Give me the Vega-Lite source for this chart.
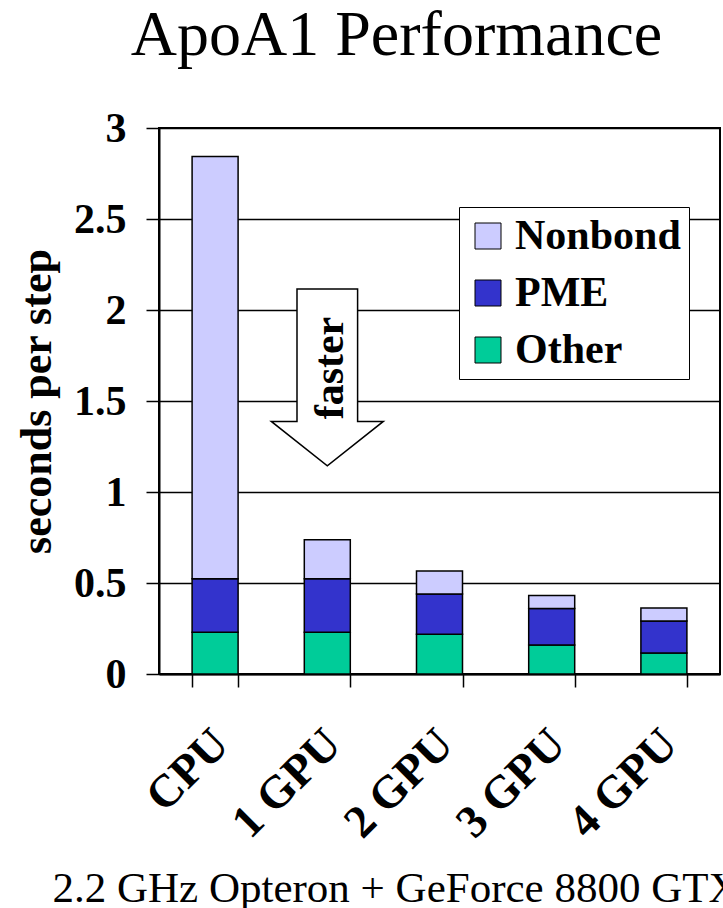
{
  "$schema": "https://vega.github.io/schema/vega-lite/v6.json",
  "autosize": {"type": "none"},
  "padding": {"left": 159, "top": 128, "right": 3, "bottom": 234},
  "width": 561,
  "height": 546,
  "background": "white",
  "title": {
    "text": "ApoA1 Performance",
    "font": "Liberation Serif",
    "fontSize": 64,
    "fontWeight": "normal",
    "color": "black",
    "anchor": "middle",
    "frame": "group",
    "dx": -43,
    "dy": 52,
    "baseline": "alphabetic",
    "offset": 40
  },
  "layer": [
    {
      "data": {
        "values": [
          {"system": "CPU", "component": "Other", "seconds": 0.229},
          {"system": "CPU", "component": "PME", "seconds": 0.295},
          {"system": "CPU", "component": "Nonbond", "seconds": 2.320},
          {"system": "1 GPU", "component": "Other", "seconds": 0.229},
          {"system": "1 GPU", "component": "PME", "seconds": 0.295},
          {"system": "1 GPU", "component": "Nonbond", "seconds": 0.214},
          {"system": "2 GPU", "component": "Other", "seconds": 0.218},
          {"system": "2 GPU", "component": "PME", "seconds": 0.222},
          {"system": "2 GPU", "component": "Nonbond", "seconds": 0.126},
          {"system": "3 GPU", "component": "Other", "seconds": 0.159},
          {"system": "3 GPU", "component": "PME", "seconds": 0.201},
          {"system": "3 GPU", "component": "Nonbond", "seconds": 0.072},
          {"system": "4 GPU", "component": "Other", "seconds": 0.115},
          {"system": "4 GPU", "component": "PME", "seconds": 0.176},
          {"system": "4 GPU", "component": "Nonbond", "seconds": 0.072}
        ]
      },
      "transform": [
        {"calculate": "indexof(['Other', 'PME', 'Nonbond'], datum.component)", "as": "stackRank"}
      ],
      "mark": {"type": "bar", "stroke": "black", "strokeWidth": 1.5},
      "encoding": {
        "x": {
          "field": "system",
          "type": "nominal",
          "sort": ["CPU", "1 GPU", "2 GPU", "3 GPU", "4 GPU"],
          "scale": {"paddingInner": 0.59, "paddingOuter": 0.295},
          "axis": {
            "title": "2.2 GHz Opteron + GeForce 8800 GTX",
            "titleFont": "Liberation Serif",
            "titleFontSize": 43,
            "titleFontWeight": "normal",
            "titleColor": "black",
            "titleAnchor": "start",
            "titleAlign": "left",
            "titleBaseline": "alphabetic",
            "titleX": -107,
            "titleY": 227,
            "labelAngle": -45,
            "labelFont": "Liberation Serif",
            "labelFontSize": 46,
            "labelFontWeight": "bold",
            "labelColor": "black",
            "labelPadding": 34,
            "labelOffset": -10,
            "tickBand": "extent",
            "tickSize": 13,
            "tickWidth": 1.5,
            "tickColor": "black",
            "domainColor": "black",
            "domainWidth": 2,
            "grid": false
          }
        },
        "y": {
          "field": "seconds",
          "type": "quantitative",
          "aggregate": "sum",
          "stack": "zero",
          "scale": {"domain": [0, 3], "nice": false},
          "axis": {
            "title": "seconds per step",
            "titleFont": "Liberation Serif",
            "titleFontSize": 44,
            "titleFontWeight": "bold",
            "titleColor": "black",
            "titleAngle": 270,
            "titleAlign": "center",
            "titleBaseline": "alphabetic",
            "titleX": -109,
            "titleY": 273,
            "values": [0, 0.5, 1, 1.5, 2, 2.5, 3],
            "format": "~g",
            "labelFont": "Liberation Serif",
            "labelFontSize": 42,
            "labelFontWeight": "bold",
            "labelColor": "black",
            "labelPadding": 20,
            "tickSize": 13,
            "tickWidth": 1.5,
            "tickColor": "black",
            "domainColor": "black",
            "domainWidth": 2,
            "grid": true,
            "gridColor": "black",
            "gridWidth": 1.5
          }
        },
        "color": {
          "field": "component",
          "type": "nominal",
          "sort": ["Other", "PME", "Nonbond"],
          "scale": {
            "domain": ["Other", "PME", "Nonbond"],
            "range": ["#00CC99", "#3333CC", "#CCCCFF"]
          },
          "legend": {
            "title": null,
            "values": ["Nonbond", "PME", "Other"],
            "orient": "none",
            "legendX": 300,
            "legendY": 79,
            "direction": "vertical",
            "fillColor": "white",
            "strokeColor": "black",
            "padding": 8,
            "symbolType": "square",
            "symbolSize": 676,
            "symbolStrokeColor": "black",
            "symbolStrokeWidth": 1,
            "symbolOpacity": 1,
            "labelFont": "Liberation Serif",
            "labelFontSize": 42,
            "labelFontWeight": "bold",
            "labelColor": "black",
            "labelOffset": 6,
            "rowPadding": 15,
            "labelLimit": 400
          }
        },
        "order": {"field": "stackRank", "type": "quantitative", "sort": "ascending"}
      }
    },
    {
      "data": {"values": [{"system": "1 GPU", "seconds": 1.63}]},
      "mark": {
        "type": "point",
        "shape": "M-0.303,-0.884L0.303,-0.884L0.303,0.441L0.56,0.441L0,0.884L-0.56,0.441L-0.303,0.441Z",
        "size": 40000,
        "filled": true,
        "fill": "white",
        "stroke": "black",
        "strokeWidth": 1.5,
        "opacity": 1
      },
      "encoding": {
        "x": {"field": "system", "type": "nominal", "sort": ["CPU", "1 GPU", "2 GPU", "3 GPU", "4 GPU"]},
        "y": {"field": "seconds", "type": "quantitative"}
      }
    },
    {
      "data": {"values": [{"system": "1 GPU", "seconds": 1.681, "label": "faster"}]},
      "mark": {
        "type": "text",
        "angle": 270,
        "font": "Liberation Serif",
        "fontSize": 42,
        "fontWeight": "bold",
        "color": "black",
        "align": "center",
        "baseline": "middle",
        "dy": 3
      },
      "encoding": {
        "x": {"field": "system", "type": "nominal", "sort": ["CPU", "1 GPU", "2 GPU", "3 GPU", "4 GPU"]},
        "y": {"field": "seconds", "type": "quantitative"},
        "text": {"field": "label"}
      }
    }
  ],
  "config": {
    "view": {"stroke": "black", "strokeWidth": 2},
    "font": "Liberation Serif"
  }
}
